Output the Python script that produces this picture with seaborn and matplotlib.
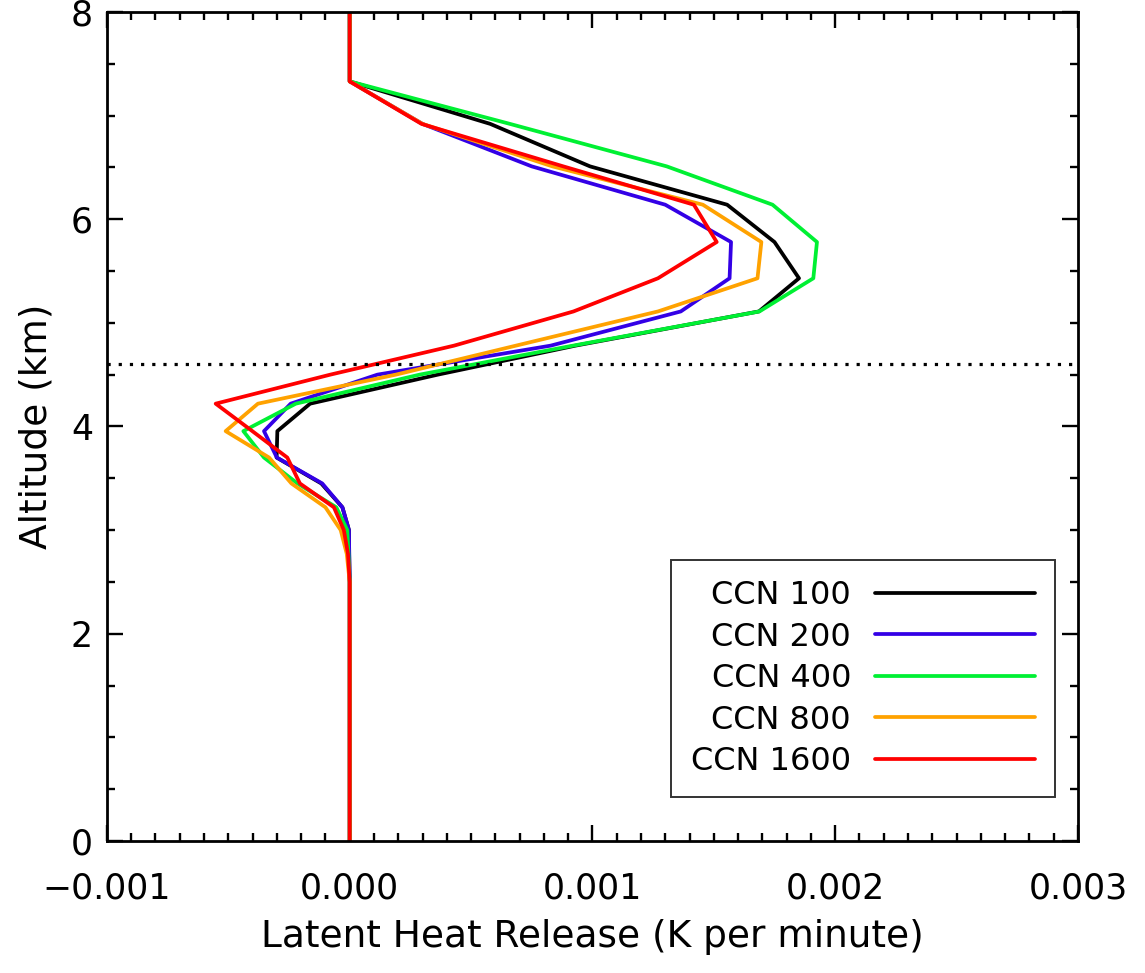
import numpy as np
import pandas as pd
import matplotlib
matplotlib.use("Agg")
import matplotlib.pyplot as plt
import seaborn as sns

# Altitude levels (km)
altitude = [0.0, 2.5, 2.77, 3.0, 3.22, 3.45, 3.70, 3.955, 4.22, 4.5, 4.78,
            5.11, 5.43, 5.78, 6.14, 6.51, 6.92, 7.33, 8.0]

# Latent heat release (K per minute)
ccn100 = [0, 0, -0.000002, -0.000003, -0.000030, -0.000117, -0.000301, -0.000298,
          -0.000163, 0.000363, 0.000930, 0.001686, 0.001851, 0.001750, 0.001555,
          0.000990, 0.000579, 0, 0]
ccn200 = [0, 0, -0.000002, -0.000003, -0.000030, -0.000113, -0.000300, -0.000353,
          -0.000243, 0.000114, 0.000828, 0.001364, 0.001565, 0.001571, 0.001300,
          0.000750, 0.000300, 0, 0]
ccn400 = [0, 0, -0.000005, -0.000010, -0.000055, -0.000215, -0.000353, -0.000438,
          -0.000222, 0.000288, 0.000920, 0.001688, 0.001910, 0.001925, 0.001742,
          0.001306, 0.000660, 0, 0]
ccn800 = [0, 0, -0.000012, -0.000037, -0.000100, -0.000240, -0.000332, -0.000511,
          -0.000378, 0.000190, 0.000685, 0.001270, 0.001680, 0.001696, 0.001455,
          0.000835, 0.000300, 0, 0]
ccn1600 = [0, 0, -0.000007, -0.000024, -0.000065, -0.000205, -0.000257, -0.000401,
           -0.000552, -0.000080, 0.000430, 0.000922, 0.001270, 0.001512, 0.001418,
           0.000880, 0.000296, 0, 0]

labels = ["CCN 100", "CCN 200", "CCN 400", "CCN 800", "CCN 1600"]
series = [ccn100, ccn200, ccn400, ccn800, ccn1600]
colors = ["#000000", "#3300e6", "#00f033", "#ffa200", "#ff0000"]

freezing_level = 4.6
x_ticks = [-0.001, 0.000, 0.001, 0.002, 0.003]
x_ticklabels = ["\u22120.001", "0.000", "0.001", "0.002", "0.003"]
y_ticks = [0, 2, 4, 6, 8]

rows = []
for lab, vals in zip(labels, series):
    for a, v in zip(altitude, vals):
        rows.append({"case": lab, "alt": a, "lh": v})
df = pd.DataFrame(rows)

sns.set_style("ticks")
plt.rcParams["font.family"] = ["DejaVu Sans"]
plt.rcParams["text.color"] = "black"
plt.rcParams["axes.labelcolor"] = "black"
plt.rcParams["xtick.color"] = "black"
plt.rcParams["ytick.color"] = "black"

fig = plt.figure(figsize=(11.45, 9.73), dpi=100)
ax = fig.add_axes([0.0934, 0.1357, 0.848, 0.852])

sns.lineplot(data=df, x="lh", y="alt", hue="case", hue_order=labels,
             palette=dict(zip(labels, colors)), orient="y", sort=False,
             estimator=None, linewidth=2.7, ax=ax)

ax.axhline(freezing_level, color="black", linestyle=(0, (1, 2.5)), linewidth=2.3)

ax.set_xlim(-0.001, 0.003)
ax.set_ylim(0, 8)
ax.set_xticks(x_ticks)
ax.set_xticklabels(x_ticklabels)
ax.set_yticks(y_ticks)
ax.set_xticks(np.arange(-0.001, 0.00301, 0.0001), minor=True)
ax.set_yticks(np.arange(0, 8.01, 0.5), minor=True)

ax.tick_params(which="both", direction="in", top=True, right=True,
               width=1.7, color="black", labelcolor="black", labelsize=25)
ax.tick_params(axis="x", which="major", length=11.5, pad=22)
ax.tick_params(axis="y", which="major", length=11.5, pad=10)
ax.tick_params(which="minor", length=5.8)
for s in ax.spines.values():
    s.set_linewidth(2.0)
    s.set_color("black")

ax.set_xlabel("Latent Heat Release (K per minute)", fontsize=27, labelpad=10,
              color="black")
ax.set_ylabel("Altitude (km)", fontsize=27, labelpad=12, color="black")

leg = ax.legend(loc="lower right", bbox_to_anchor=(0.976, 0.053),
                markerfirst=False, fontsize=23, frameon=True, fancybox=False,
                handlelength=5.0, handletextpad=0.75, labelspacing=0.33,
                borderpad=0.62, borderaxespad=0)
leg.get_frame().set_edgecolor("black")
leg.get_frame().set_linewidth(1.4)
for t in leg.get_texts():
    t.set_color("black")
for ln in leg.get_lines():
    ln.set_linewidth(2.7)

fig.savefig("out.png", dpi=100)
